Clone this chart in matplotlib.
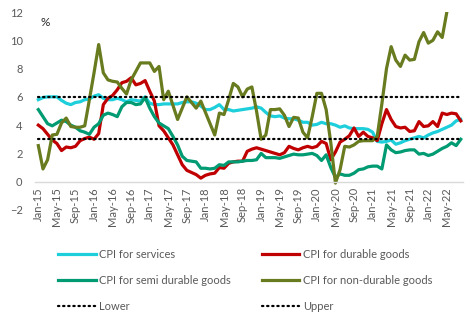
import matplotlib
matplotlib.use('Agg')
import matplotlib.pyplot as plt
import numpy as np
import pandas as pd

plt.rcParams['font.family'] = ['Lato', 'DejaVu Sans']

# Datos (Jan-15 .. Aug-22, mensual)
months = pd.date_range('2015-01-01', periods=92, freq='MS')
month_labels = [d.strftime('%b-%y') for d in months]

services = [5.8, 5.95, 6.0, 6.0, 6.0, 5.75, 5.55, 5.45, 5.6, 5.65,
            5.8, 5.85, 6.05, 6.15, 5.9, 5.8, 5.8, 5.9, 5.8, 5.65,
            5.8, 5.75, 5.7, 6.0, 5.55, 5.45, 5.45, 5.5, 5.5, 5.5,
            5.5, 5.6, 5.65, 5.65, 5.55, 5.35, 5.1, 5.1, 5.25, 5.45,
            5.1, 5.1, 5.0, 5.05, 5.1, 5.15, 5.2, 5.3, 5.2, 4.9,
            4.65, 4.6, 4.65, 4.5, 4.45, 4.45, 4.35, 4.2, 4.2, 4.0,
            4.05, 4.2, 4.1, 4.1, 4.0, 3.85, 3.95, 3.8, 3.75, 3.75,
            3.75, 3.7, 3.5, 2.85, 2.8, 2.85, 2.95, 2.65, 2.75, 2.9,
            3.0, 3.1, 3.2, 3.1, 3.3, 3.45, 3.55, 3.7, 3.85, 4.0,
            4.3, 4.4]

durable = [4.0, 3.75, 3.35, 2.95, 2.7, 2.2, 2.45, 2.4, 2.5, 2.9,
           3.05, 3.15, 3.0, 3.4, 5.45, 5.9, 6.1, 6.5, 7.0, 7.1,
           7.35, 6.85, 6.95, 7.15, 6.4, 5.7, 3.95, 3.6, 3.1, 2.6,
           1.9, 1.2, 0.8, 0.65, 0.5, 0.25, 0.45, 0.55, 0.6, 1.0,
           0.95, 1.3, 1.4, 1.45, 1.45, 2.15, 2.3, 2.4, 2.3, 2.2,
           2.1, 2.0, 1.9, 2.05, 2.5, 2.35, 2.25, 2.4, 2.5, 2.4,
           2.5, 2.85, 2.7, 1.55, 2.1, 2.8, 3.0, 3.25, 3.8, 3.2,
           3.5, 3.2, 3.1, 2.9, 4.1, 5.1, 4.4, 3.9, 3.8, 3.85,
           3.55, 3.6, 4.25, 3.9, 3.95, 4.25, 3.9, 4.85, 4.75, 4.85,
           4.8, 4.3]

semi_durable = [5.1, 4.6, 4.1, 3.95, 4.15, 4.35, 4.25, 4.0, 3.85, 3.6,
                3.5, 3.35, 3.85, 4.1, 4.7, 4.85, 4.75, 4.6, 5.3, 5.6,
                5.6, 5.45, 5.5, 5.95, 5.2, 4.6, 4.15, 3.95, 3.75, 3.2,
                2.6, 1.8, 1.5, 1.45, 1.4, 0.95, 0.95, 0.9, 0.95, 1.2,
                1.15, 1.4, 1.4, 1.4, 1.45, 1.5, 1.5, 1.55, 2.0, 1.7,
                1.7, 1.7, 1.65, 1.75, 1.85, 1.95, 1.9, 1.9, 1.95, 2.0,
                1.85, 1.5, 1.9, 1.0, 0.3, 0.55, 0.45, 0.45, 0.6, 0.85,
                0.9, 1.05, 1.1, 1.1, 0.9, 2.6, 2.25, 2.05, 2.1, 2.2,
                2.25, 2.25, 1.95, 2.0, 1.85, 1.95, 2.15, 2.35, 2.5, 2.75,
                2.55, 3.0]

non_durable = [2.55, 0.9, 1.55, 3.3, 3.35, 4.15, 4.5, 3.9, 3.85, 3.85,
               3.95, 5.8, 7.7, 9.7, 7.7, 7.2, 7.1, 7.05, 6.6, 6.2,
               7.2, 7.8, 8.4, 8.4, 8.4, 7.8, 8.15, 5.8, 6.4, 5.4,
               4.4, 5.2, 6.0, 5.6, 5.2, 5.7, 4.9, 4.1, 3.3, 4.85,
               4.75, 5.8, 6.95, 6.7, 6.0, 6.55, 6.7, 5.0, 3.0, 3.3,
               5.1, 5.1, 5.15, 4.7, 3.9, 4.55, 4.5, 3.5, 3.1, 4.6,
               6.25, 6.25, 5.1, 2.75, -0.1, 0.85, 2.5, 2.45, 2.6, 2.85,
               2.9, 2.9, 2.9, 3.2, 5.5, 8.0, 9.55, 8.6, 8.15, 8.95,
               8.6, 8.65, 9.9, 10.55, 9.8, 10.0, 10.6, 10.2, 12.0]

lower = [3] * 92
upper = [6] * 92

gris = '#595959'

fig = plt.figure(figsize=(4.74, 3.25), dpi=100)
ax = fig.add_axes([0.074, 0.354, 0.903, 0.609])

# eje x en y=0 (antes de tocar los ticks, porque set_position los reinicia)
for s in ['top', 'right', 'left']:
    ax.spines[s].set_visible(False)
ax.spines['bottom'].set_position(('data', 0))
ax.spines['bottom'].set_color('#d9d9d9')
ax.spines['bottom'].set_linewidth(1.0)

x = np.arange(len(months))
lw = 2.3
ax.plot(x, services, color='#1CCFDA', lw=lw, label='CPI for services')
ax.plot(x, durable, color='#C00000', lw=lw, label='CPI for durable goods')
ax.plot(x, semi_durable, color='#009B72', lw=lw, label='CPI for semi durable goods')
ax.plot(np.arange(len(non_durable)), non_durable, color='#687B1F', lw=lw,
        label='CPI for non-durable goods')
puntos = (0, (0.6, 1.7))
ax.plot(x, lower, color='black', lw=1.6, ls=puntos, dash_capstyle='round', label='Lower')
ax.plot(x, upper, color='black', lw=1.6, ls=puntos, dash_capstyle='round', label='Upper')

ax.set_xlim(-0.7, 91.5)
ax.set_ylim(-2, 12)
ax.set_yticks(range(-2, 13, 2))
ax.set_xticks(x[::4])
ax.set_xticklabels(month_labels[::4], rotation=90, va='top', ha='center')
ax.tick_params(axis='x', length=0, pad=4, labelsize=8, labelcolor=gris)
ax.tick_params(axis='y', length=0, pad=9, labelsize=8, labelcolor=gris)

ax.text(0.013, 0.975, '%', transform=ax.transAxes, fontsize=8.5, color='#262626',
        va='top', ha='left')

h, l = ax.get_legend_handles_labels()
kw = dict(frameon=False, fontsize=8, borderpad=0, borderaxespad=0,
          handlelength=3.4, handletextpad=0.3, labelspacing=1.35,
          labelcolor=gris, loc='upper left')
fig.legend([h[0], h[2], h[4]], [l[0], l[2], l[4]], bbox_to_anchor=(0.122, 0.233), **kw)
fig.legend([h[1], h[3], h[5]], [l[1], l[3], l[5]], bbox_to_anchor=(0.552, 0.233), **kw)

fig.savefig('out.png', dpi=100)
